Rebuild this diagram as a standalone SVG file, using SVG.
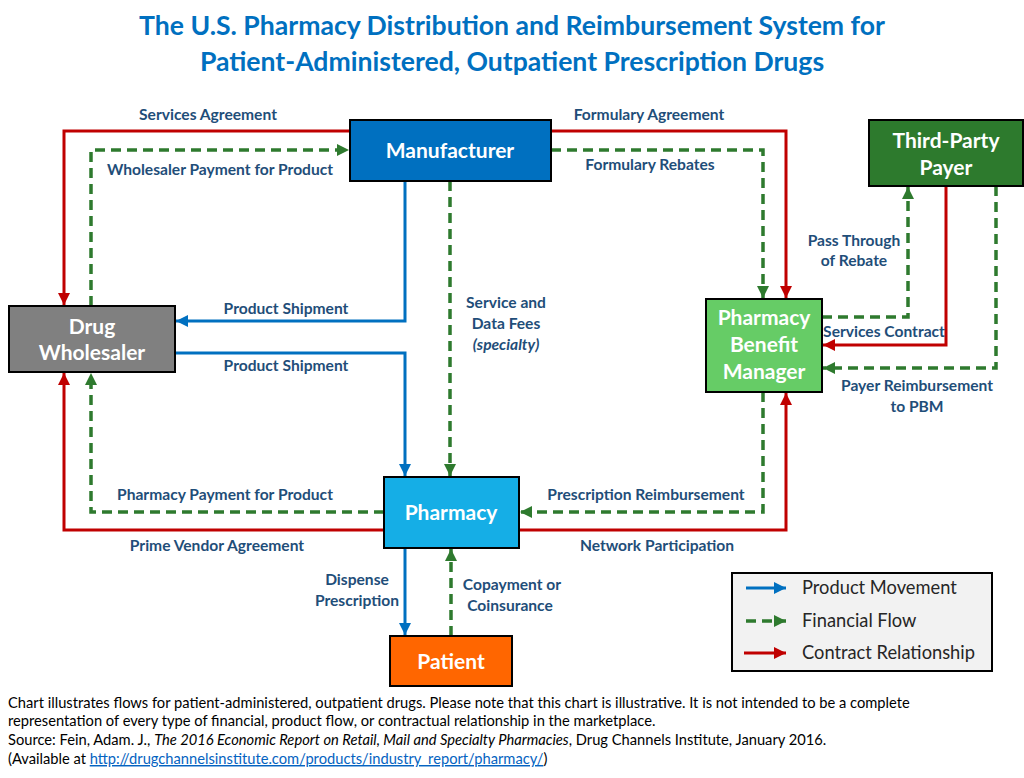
<svg xmlns="http://www.w3.org/2000/svg" width="1024" height="778" viewBox="0 0 1024 778">
<style>
.title{font-family:Lato,"Liberation Sans",sans-serif;font-weight:bold;font-size:26.6px;fill:#0070C0;text-anchor:middle}
.node{stroke:#000;stroke-width:2}
.nt{font-family:Lato,"Liberation Sans",sans-serif;font-weight:bold;font-size:21px;fill:#fff;text-anchor:middle}
.lbl{font-family:Lato,"Liberation Sans",sans-serif;font-weight:bold;font-size:15.6px;fill:#1F4E79;text-anchor:middle}
.blue{fill:none;stroke:#0070C0;stroke-width:3}
.red{fill:none;stroke:#C00000;stroke-width:3}
.green{fill:none;stroke:#2E7A2E;stroke-width:3.5;stroke-dasharray:10,6}
.leg{font-family:Lato,"Liberation Sans",sans-serif;font-size:18.3px;fill:#262626}
.foot{font-family:Lato,"Liberation Sans",sans-serif;font-size:14.7px;fill:#000}
</style>
<defs>
<marker id="ab" markerUnits="userSpaceOnUse" markerWidth="14" markerHeight="14" refX="12" refY="7" orient="auto"><path d="M0,1 L12,7 L0,13 Z" fill="#0070C0"/></marker>
<marker id="ar" markerUnits="userSpaceOnUse" markerWidth="14" markerHeight="14" refX="12" refY="7" orient="auto"><path d="M0,1 L12,7 L0,13 Z" fill="#C00000"/></marker>
<marker id="ag" markerUnits="userSpaceOnUse" markerWidth="14" markerHeight="14" refX="12" refY="7" orient="auto"><path d="M0,1 L12,7 L0,13 Z" fill="#2E7A2E"/></marker>
</defs>
<rect width="1024" height="778" fill="#fff"/>
<text class="title" x="512" y="35">The U.S. Pharmacy Distribution and Reimbursement System for</text>
<text class="title" x="512" y="71">Patient-Administered, Outpatient Prescription Drugs</text>

<g id="connectors">
<path class="red" d="M350,131 H64 V305" marker-end="url(#ar)"/>
<path class="green" d="M91,306 V150 H349" marker-end="url(#ag)"/>
<path class="red" d="M551,131 H786 V298" marker-end="url(#ar)"/>
<path class="green" d="M551,150 H763 V298" marker-end="url(#ag)"/>
<path class="blue" d="M405,181 V321 H176" marker-end="url(#ab)"/>
<path class="blue" d="M175,353 H405 V476" marker-end="url(#ab)"/>
<path class="green" d="M450,181 V476" marker-end="url(#ag)"/>
<path class="green" d="M384,512 H91 V373" marker-end="url(#ag)"/>
<path class="red" d="M384,530 H64 V373" marker-end="url(#ar)"/>
<path class="green" d="M763,392 V512 H520" marker-end="url(#ag)"/>
<path class="red" d="M519,530 H786 V393" marker-end="url(#ar)"/>
<path class="blue" d="M405,548 V635" marker-end="url(#ab)"/>
<path class="green" d="M451,636 V549" marker-end="url(#ag)"/>
<path class="green" d="M822,317 H908 V187" marker-end="url(#ag)"/>
<path class="red" d="M946,186 V345 H823" marker-end="url(#ar)"/>
<path class="green" d="M996,186 V368 H823" marker-end="url(#ag)"/>
</g>

<g id="labels">
<text class="lbl" x="208" y="120">Services Agreement</text>
<text class="lbl" x="220" y="175">Wholesaler Payment for Product</text>
<text class="lbl" x="649" y="120">Formulary Agreement</text>
<text class="lbl" x="650" y="170">Formulary Rebates</text>
<text class="lbl" x="286" y="314">Product Shipment</text>
<text class="lbl" x="286" y="371">Product Shipment</text>
<text class="lbl" x="506" y="308">Service and</text>
<text class="lbl" x="506" y="329">Data Fees</text>
<text class="lbl" x="506" y="350" font-style="italic" font-weight="normal">(specialty)</text>
<text class="lbl" x="225" y="500">Pharmacy Payment for Product</text>
<text class="lbl" x="217" y="551">Prime Vendor Agreement</text>
<text class="lbl" x="646" y="500">Prescription Reimbursement</text>
<text class="lbl" x="657" y="551">Network Participation</text>
<text class="lbl" x="357" y="585">Dispense</text>
<text class="lbl" x="357" y="606">Prescription</text>
<text class="lbl" x="512" y="590">Copayment or</text>
<text class="lbl" x="510" y="611">Coinsurance</text>
<text class="lbl" x="854" y="246">Pass Through</text>
<text class="lbl" x="854" y="266">of Rebate</text>
<text class="lbl" x="884" y="337" font-size="13">Services Contract</text>
<text class="lbl" x="917" y="391">Payer Reimbursement</text>
<text class="lbl" x="917" y="412">to PBM</text>
</g>

<g id="manufacturer">
<rect class="node" x="350" y="120" width="201" height="61" fill="#0070C0"/>
<text class="nt" x="450" y="158">Manufacturer</text>
</g>
<g id="wholesaler">
<rect class="node" x="9" y="306" width="166" height="66" fill="#808080"/>
<text class="nt" x="92" y="334">Drug</text>
<text class="nt" x="92" y="360">Wholesaler</text>
</g>
<g id="pharmacy">
<rect class="node" x="384" y="477" width="135" height="71" fill="#15AEE6"/>
<text class="nt" x="451" y="520">Pharmacy</text>
</g>
<g id="patient">
<rect class="node" x="390" y="636" width="122" height="50" fill="#FF6600"/>
<text class="nt" x="451" y="669">Patient</text>
</g>
<g id="pbm">
<rect class="node" x="706" y="299" width="116" height="93" fill="#66CC66"/>
<text class="nt" x="764" y="325">Pharmacy</text>
<text class="nt" x="764" y="352">Benefit</text>
<text class="nt" x="764" y="379">Manager</text>
</g>
<g id="payer">
<rect class="node" x="869" y="120" width="154" height="66" fill="#2D7A2D"/>
<text class="nt" x="946" y="148">Third-Party</text>
<text class="nt" x="946" y="175">Payer</text>
</g>

<g id="legend">
<rect x="732" y="573" width="260" height="98" fill="#F2F2F2" stroke="#000" stroke-width="2"/>
<path class="blue" d="M746,588 H786" stroke-width="4" marker-end="url(#ab)"/>
<path class="green" d="M746,621 H786" stroke-width="4" stroke-dasharray="9,6" marker-end="url(#ag)"/>
<path class="red" d="M744,653 H786" stroke-width="4" marker-end="url(#ar)"/>
<text class="leg" x="802" y="594">Product Movement</text>
<text class="leg" x="802" y="627">Financial Flow</text>
<text class="leg" x="802" y="659">Contract Relationship</text>
</g>

<g id="footer">
<text class="foot" x="8" y="708">Chart illustrates flows for patient-administered, outpatient drugs. Please note that this chart is illustrative. It is not intended to be a complete</text>
<text class="foot" x="8" y="726">representation of every type of financial, product flow, or contractual relationship in the marketplace.</text>
<text class="foot" x="8" y="745">Source: Fein, Adam. J., <tspan font-style="italic">The 2016 Economic Report on Retail, Mail and Specialty Pharmacies</tspan>, Drug Channels Institute, January 2016.</text>
<text class="foot" x="8" y="764">(Available at <tspan fill="#0563C1" text-decoration="underline">http://drugchannelsinstitute.com/products/industry_report/pharmacy/</tspan>)</text>
</g>
</svg>
